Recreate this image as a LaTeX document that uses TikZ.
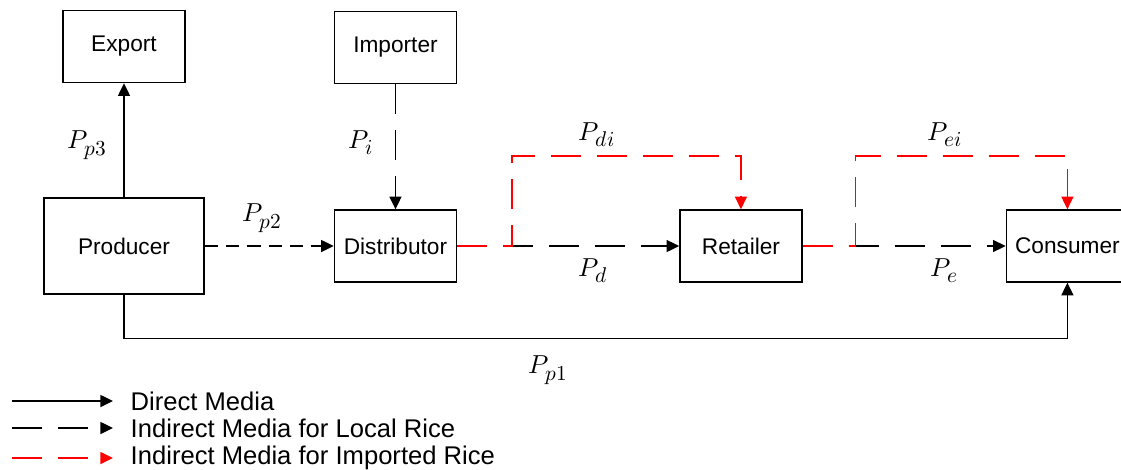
\documentclass[tikz,border=0pt]{standalone}
\usepackage{fontspec}
\usepackage{unicode-math}
\setmainfont{Liberation Sans}
\DeclareMathSizes{19.5}{19.5}{16}{12}
\usetikzlibrary{arrows.meta, positioning}

\begin{document}
\begin{tikzpicture}[
    x=0.75pt, y=-0.75pt,
    line width=1.1pt,
    every node/.style={font=\fontsize{17}{20}\selectfont},
    box/.style={draw, rectangle, minimum width=91.5pt, minimum height=54pt, align=center, inner sep=0pt},
    tip/.style={-{Triangle[length=9.5pt, width=9pt]}},
    direct/.style={tip},
    local/.style={tip, dash pattern=on 22.5pt off 12pt},
    shortdash/.style={tip, dash pattern=on 10pt off 6pt},
    imported/.style={tip, red, dash pattern=on 22.5pt off 12pt},
    lbl/.style={font=\fontsize{19.5}{22}\selectfont},
    legend/.style={anchor=west, inner sep=0pt, font=\fontsize{19.2}{22}\selectfont}
]
\useasboundingbox (0,0) rectangle (1121,469);

% Nodes
\node[box, minimum width=120pt, minimum height=72pt] (prod) at (124,246) {Producer};
\node[box, right=96.75pt of prod] (dist) {Distributor};
\node[box, right=166.5pt of dist] (ret) {Retailer};
\node[box, right=152.25pt of ret] (cons) {Consumer};
\node[box, above=85.5pt of prod] (exp) {Export};
\node[box, above=93.75pt of dist] (imp) {Importer};

% Arrows
\draw[direct] (prod) -- (exp);
\draw[local] (imp) -- (dist);
\draw[shortdash] (prod) -- (dist);
\draw[local] (dist) -- (ret);
\draw[local] (ret) -- (cons);
\draw[imported] (dist.east) -- ++(55,0) -- ++(0,-90) -| (ret.north);
\draw[imported] (ret.east) -- ++(53,0) -- ++(0,-90) -| (cons.north);
\draw[direct] (prod.south) -- ++(0,44) -| (cons.south);

% Flow labels
\node[lbl] (pp3) at (87,145) {$P_{p3}$};
\node[lbl] (pi) at (361,143) {$P_i$};
\node[lbl] (pp2) at (262,218) {$P_{p2}$};
\node[lbl] (pdi) at (597,135) {$P_{di}$};
\node[lbl] (pd) at (593,271) {$P_d$};
\node[lbl] (pei) at (945,135) {$P_{ei}$};
\node[lbl] (pe) at (944,271) {$P_e$};
\node[lbl] (pp1) at (548,370) {$P_{p1}$};

% Legend
\coordinate (d1) at (12,401); \coordinate (d2) at (113,401);
\coordinate (l1) at (12,428); \coordinate (l2) at (113,428);
\coordinate (i1) at (12,458); \coordinate (i2) at (113,458);
\draw[direct] (d1) -- (d2);
\draw[local] (l1) -- (l2);
\draw[imported] (i1) -- (i2);
\node[legend] (ldirect) at (130,401) {Direct Media};
\node[legend] (llocal) at (130,428) {Indirect Media for Local Rice};
\node[legend] (limport) at (130,458) {Indirect Media for Imported Rice};

\end{tikzpicture}
\end{document}
